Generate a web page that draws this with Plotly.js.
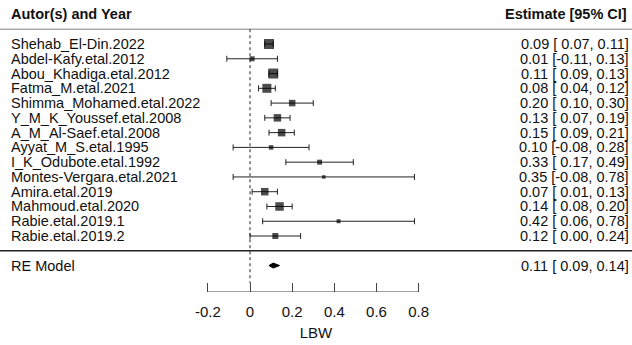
<!DOCTYPE html>
<html>
<head>
<meta charset="utf-8">
<script src="https://cdn.plot.ly/plotly-3.0.1.min.js"></script>
<style>html,body{margin:0;padding:0;background:#fff;}#chart{width:632px;height:345px;}</style>
</head>
<body>
<div id="chart"></div>
<script>
// ---- data ----
var studies = ["Shehab_El-Din.2022","Abdel-Kafy.etal.2012","Abou_Khadiga.etal.2012","Fatma_M.etal.2021",
  "Shimma_Mohamed.etal.2022","Y_M_K_Youssef.etal.2008","A_M_Al-Saef.etal.2008","Ayyat_M_S.etal.1995",
  "I_K_Odubote.etal.1992","Montes-Vergara.etal.2021","Amira.etal.2019","Mahmoud.etal.2020",
  "Rabie.etal.2019.1","Rabie.etal.2019.2"];
var estimates = [0.09,0.01,0.11,0.08,0.20,0.13,0.15,0.10,0.33,0.35,0.07,0.14,0.42,0.12];
var lower     = [0.07,-0.11,0.09,0.04,0.10,0.07,0.09,-0.08,0.17,-0.08,0.01,0.08,0.06,0.00];
var upper     = [0.11,0.13,0.13,0.12,0.30,0.19,0.21,0.28,0.49,0.78,0.13,0.20,0.78,0.24];
var reLabel = "RE Model";
var reEstimate = 0.11, reLower = 0.09, reUpper = 0.14;
var xTicks = [-0.2, 0, 0.2, 0.4, 0.6, 0.8];
var xTickText = ["-0.2","0","0.2","0.4","0.6","0.8"];
var xTitle = "LBW";
var leftHeader = "Autor(s) and Year";
var rightHeader = "Estimate [95% CI]";

// ---- style (not data) ----
var markerSizes = [10,5,10,9,6.5,7.5,7.5,4.5,5,3.5,7.5,8.5,4,6];

function fmt(v){ var s = v.toFixed(2); return (v < 0 ? s : " " + s); }
function ciText(e,l,u){ return e.toFixed(2) + " [" + fmt(l) + "," + fmt(u) + "]"; }

var k = studies.length;
var rows = studies.map(function(_, i){ return k - i; });

var FONT = "Liberation Sans, Arial, sans-serif";
var FS = 14.5;
var traces = [];
traces.push({
  x: estimates, y: rows, type: "scatter", mode: "markers",
  marker: {symbol: "square", size: markerSizes, color: "#000", line: {width: 0}},
  error_x: {type: "data", symmetric: false,
    array: upper.map(function(u,i){ return u - estimates[i]; }),
    arrayminus: lower.map(function(l,i){ return estimates[i] - l; }),
    color: "#222", thickness: 1, width: 3},
  hoverinfo: "skip", showlegend: false, cliponaxis: false
});
var reRow = -1, dh = 0.17;
traces.push({
  x: [reLower, reEstimate, reUpper, reEstimate, reLower],
  y: [reRow, reRow + dh, reRow, reRow - dh, reRow],
  type: "scatter", mode: "lines", fill: "toself", fillcolor: "#000",
  line: {color: "#000", width: 1}, hoverinfo: "skip", showlegend: false
});

var annotations = [];
function ann(x, y, text, anchor, xshift){
  annotations.push({x: x, xref: "paper", y: y, yref: "y", text: text, showarrow: false,
    xanchor: anchor, yanchor: "middle", xshift: xshift || 0,
    font: {family: FONT, size: FS, color: "#111"}});
}
studies.forEach(function(s, i){
  ann(9/632, rows[i], s, "left");
  ann(1, rows[i], ciText(estimates[i], lower[i], upper[i]), "right", -1);
});
ann(9/632, reRow, reLabel, "left");
ann(1, reRow, ciText(reEstimate, reLower, reUpper), "right", -1);
ann(9/632, k + 2, "<b>" + leftHeader + "</b>", "left");
ann(1, k + 2, "<b>" + rightHeader + "</b>", "right", -3);

var yBottom = -2.79;
var shapes = [
  {type: "line", xref: "paper", yref: "y", x0: 0, x1: 1, y0: k + 1, y1: k + 1, line: {color: "#aaa", width: 1.5}},
  {type: "line", xref: "paper", yref: "y", x0: 0, x1: 1, y0: 0, y1: 0, line: {color: "#222", width: 1.5}},
  {type: "line", xref: "x", yref: "y", x0: 0, x1: 0, y0: k + 1, y1: yBottom + 0.6, line: {color: "#222", width: 1, dash: "dot"}},
  {type: "line", xref: "x", yref: "y", x0: xTicks[0], x1: xTicks[xTicks.length - 1], y0: yBottom, y1: yBottom, line: {color: "#444", width: 1}}
];

var layout = {
  width: 632, height: 345,
  margin: {l: 0, r: 0, t: 0, b: 53},
  paper_bgcolor: "#fff", plot_bgcolor: "#fff",
  xaxis: {range: [-1.186, 1.812], showgrid: false, zeroline: false, showline: false,
    tickmode: "array", tickvals: xTicks, ticktext: xTickText, ticks: "inside", ticklen: 9,
    tickcolor: "#444", tickwidth: 1, ticklabelstandoff: 9, tickfont: {family: FONT, size: 15, color: "#111"},
    title: {text: xTitle, font: {family: FONT, size: 15, color: "#111"}, standoff: 8}},
  yaxis: {range: [yBottom, 16.98], visible: false, showgrid: false, zeroline: false, fixedrange: true},
  annotations: annotations, shapes: shapes, showlegend: false
};

Plotly.newPlot("chart", traces, layout, {displayModeBar: false, staticPlot: true});
</script>
</body>
</html>
